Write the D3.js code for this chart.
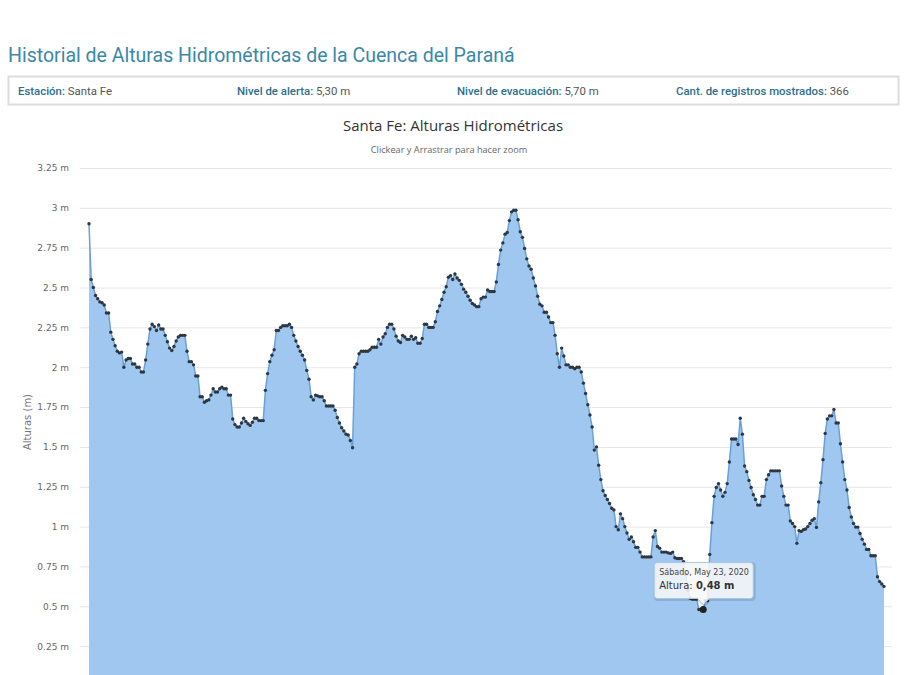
<!DOCTYPE html>
<html>
<head>
<meta charset="utf-8">
<script src="https://cdn.jsdelivr.net/npm/d3@7"></script>
<style>
  body { margin: 0; background: #fff; overflow: hidden; }
</style>
</head>
<body>
<svg id="page"></svg>
<script>
// info bar
const infoLabels = ['Estación:', 'Nivel de alerta:', 'Nivel de evacuación:', 'Cant. de registros mostrados:'];
const infoValues = ['Santa Fe', '5,30 m', '5,70 m', '366'];

const yTicks = [0.25, 0.5, 0.75, 1, 1.25, 1.5, 1.75, 2, 2.25, 2.5, 2.75, 3, 3.25];

// alturas (m), 366 registros diarios
const alturas = [
  2.90, 2.55, 2.50, 2.45, 2.43, 2.41, 2.405, 2.39, 2.34, 2.34,
  2.22, 2.175, 2.135, 2.10, 2.09, 2.095, 2.00, 2.045, 2.055, 2.055,
  2.02, 2.02, 2.00, 2.00, 1.97, 1.97, 2.045, 2.145, 2.24, 2.27,
  2.255, 2.23, 2.265, 2.24, 2.24, 2.20, 2.16, 2.12, 2.105, 2.13,
  2.165, 2.19, 2.20, 2.20, 2.20, 2.10, 2.035, 2.035, 2.015, 1.945,
  1.945, 1.815, 1.815, 1.78, 1.79, 1.795, 1.825, 1.865, 1.845, 1.845,
  1.865, 1.875, 1.865, 1.865, 1.825, 1.825, 1.675, 1.64, 1.625, 1.625,
  1.65, 1.68, 1.66, 1.645, 1.635, 1.655, 1.68, 1.68, 1.665, 1.665,
  1.665, 1.855, 1.96, 2.035, 2.075, 2.11, 2.23, 2.23,
  2.25, 2.26, 2.26, 2.26, 2.27, 2.25, 2.20, 2.165, 2.13, 2.10,
  2.075, 2.045, 1.98, 1.925, 1.815, 1.795, 1.825, 1.82, 1.815, 1.815,
  1.79, 1.757, 1.757, 1.757, 1.757, 1.73, 1.685, 1.65, 1.62, 1.60,
  1.58, 1.575, 1.54, 1.495, 2.00, 2.02, 2.085, 2.10, 2.10, 2.10, 2.10,
  2.11, 2.125, 2.125, 2.125, 2.175, 2.145, 2.19, 2.21, 2.25, 2.27,
  2.27, 2.24, 2.195, 2.165, 2.155, 2.20, 2.19, 2.175, 2.175, 2.195,
  2.175, 2.185, 2.15, 2.15,
  2.18, 2.27, 2.27, 2.25, 2.25, 2.25, 2.285, 2.35, 2.385, 2.425,
  2.47, 2.505, 2.565, 2.575, 2.55, 2.585, 2.56, 2.545, 2.52, 2.49,
  2.47, 2.445, 2.42, 2.40, 2.39, 2.38, 2.38, 2.43, 2.44, 2.44,
  2.485, 2.475, 2.475, 2.475, 2.535, 2.645, 2.735, 2.78, 2.835, 2.845,
  2.92, 2.975, 2.985, 2.985, 2.925, 2.85, 2.815, 2.745, 2.68, 2.635,
  2.615, 2.56, 2.51, 2.445, 2.395, 2.385, 2.345, 2.345, 2.315, 2.28,
  2.28, 2.20, 2.085, 2.00, 2.12, 2.07, 2.015, 2.015, 2.00, 2.00,
  1.99, 2.00, 2.00, 1.97, 1.90,
  1.835, 1.765, 1.70, 1.625, 1.48, 1.50, 1.385, 1.295, 1.225, 1.195,
  1.17, 1.145, 1.115, 1.105, 1.00, 0.98, 1.08, 1.05, 1.00, 0.96,
  0.92, 0.935, 0.905, 0.87, 0.87, 0.84, 0.81, 0.81, 0.81, 0.81,
  0.81, 0.935, 0.975, 0.875, 0.865, 0.84, 0.84, 0.84, 0.835, 0.832,
  0.84, 0.805, 0.80, 0.80, 0.80,
  0.78, 0.70, 0.60, 0.55, 0.545, 0.545, 0.545, 0.48, 0.48, 0.48, 0.535, 0.535,
  0.825, 1.025, 1.19, 1.245, 1.27, 1.23, 1.19, 1.215, 1.27, 1.405,
  1.55, 1.55, 1.55, 1.515, 1.68, 1.58, 1.38, 1.345, 1.29, 1.245,
  1.20, 1.17, 1.135, 1.135, 1.19, 1.19, 1.295, 1.325, 1.35, 1.35,
  1.35, 1.35, 1.35, 1.255, 1.19, 1.135, 1.135, 1.035, 1.02, 1.00,
  0.895, 0.975, 0.97, 0.98, 0.985, 1.00, 1.02, 1.04, 1.05, 0.995,
  1.155, 1.275, 1.42, 1.585, 1.675, 1.695, 1.695, 1.735, 1.65, 1.65,
  1.52, 1.405, 1.295, 1.23, 1.12, 1.06, 1.02, 0.997, 0.997, 0.957,
  0.92, 0.89, 0.857, 0.857, 0.817, 0.817, 0.817, 0.685, 0.655, 0.64,
  0.625
];

// punto señalado por el tooltip
const tooltipIndex = 282;
const tooltipDate = 'Sábado, May 23, 2020';

const svg = d3.select('#page')
  .attr('width', 907)
  .attr('height', 760);

// encabezado
svg.append('text')
  .attr('x', 8)
  .attr('y', 62)
  .style('font-family', 'Roboto')
  .style('font-size', '19.5px')
  .style('fill', '#3a88a8')
  .text('Historial de Alturas Hidrométricas de la Cuenca del Paraná');

svg.append('rect')
  .attr('x', 8.5)
  .attr('y', 76.5)
  .attr('width', 890)
  .attr('height', 28)
  .attr('fill', '#fff')
  .attr('stroke', '#dcdcdc')
  .attr('stroke-width', 2);

const infoX = [18, 237, 457, 676];
infoLabels.forEach((lab, i) => {
  const t = svg.append('text')
    .attr('x', infoX[i])
    .attr('y', 95)
    .style('font-family', 'Roboto')
    .style('font-size', '11.4px');
  t.append('tspan').style('fill', '#2b6f8d').style('font-weight', 500).text(lab);
  t.append('tspan').style('fill', '#555').text(' ' + infoValues[i]);
});

// grafico
const margin = {top: 168, left: 89, right: 884, bottom: 686};

const x = d3.scaleLinear()
  .domain([0, alturas.length - 1])
  .range([margin.left, margin.right]);

const y = d3.scaleLinear()
  .domain([0, 3.25])
  .range([margin.bottom, margin.top]);

svg.append('text')
  .attr('x', 453)
  .attr('y', 131)
  .attr('text-anchor', 'middle')
  .style('font-family', 'Open Sans')
  .style('font-size', '15px')
  .style('fill', '#333')
  .text('Santa Fe: Alturas Hidrométricas');

svg.append('text')
  .attr('x', 449)
  .attr('y', 153)
  .attr('text-anchor', 'middle')
  .style('font-family', 'Open Sans')
  .style('font-size', '9.2px')
  .style('fill', '#666')
  .text('Clickear y Arrastrar para hacer zoom');

// grilla y eje y
const yAxis = svg.append('g')
  .attr('transform', `translate(80, 0)`)
  .call(d3.axisLeft(y)
    .tickValues(yTicks)
    .tickSize(-812)
    .tickPadding(11)
    .tickFormat(d => d + ' m'));

yAxis.select('.domain').remove();
yAxis.selectAll('.tick line')
  .attr('stroke', '#e6e6e6');
yAxis.selectAll('.tick text')
  .style('font-family', 'DejaVu Sans')
  .style('font-size', '9px')
  .style('fill', '#666');

svg.append('text')
  .attr('transform', 'rotate(-90)')
  .attr('x', -422)
  .attr('y', 31)
  .attr('text-anchor', 'middle')
  .style('font-family', 'DejaVu Sans')
  .style('font-size', '10px')
  .style('fill', '#777')
  .text('Alturas (m)');

// area + linea
const area = d3.area()
  .x((d, i) => x(i))
  .y0(y(0))
  .y1(d => y(d));

svg.append('path')
  .datum(alturas)
  .attr('fill', '#9fc7f0')
  .attr('d', area);

const line = d3.line()
  .x((d, i) => x(i))
  .y(d => y(d));

svg.append('path')
  .datum(alturas)
  .attr('fill', 'none')
  .attr('stroke', '#6c9fd4')
  .attr('stroke-width', 1.5)
  .attr('d', line);

svg.selectAll('.punto')
  .data(alturas)
  .enter()
  .append('circle')
  .attr('class', 'punto')
  .attr('cx', (d, i) => x(i))
  .attr('cy', d => y(d))
  .attr('r', 1.7)
  .attr('fill', '#2e3640');

// punto destacado
const px = x(tooltipIndex);
const py = y(alturas[tooltipIndex]);

svg.append('circle')
  .attr('cx', px)
  .attr('cy', py)
  .attr('r', 3.5)
  .attr('fill', '#222');

// tooltip
const tipW = 99, tipH = 36;
const tipX = px - 49, tipY = py - 47;
const tip = svg.append('g');

const tipPath = `M${tipX + 3},${tipY} h${tipW - 6} q3,0 3,3 v${tipH - 6} q0,3 -3,3 H${px + 6} L${px},${tipY + tipH + 6} L${px - 6},${tipY + tipH} H${tipX + 3} q-3,0 -3,-3 v${-(tipH - 6)} q0,-3 3,-3 Z`;

tip.append('path')
  .attr('d', tipPath)
  .attr('transform', 'translate(1,1)')
  .attr('fill', 'none')
  .attr('stroke', 'rgba(0,0,0,0.12)')
  .attr('stroke-width', 3);

tip.append('path')
  .attr('d', tipPath)
  .attr('fill', 'rgba(247,247,247,0.88)')
  .attr('stroke', '#a9c7e6')
  .attr('stroke-width', 1);

tip.append('text')
  .attr('x', tipX + 5)
  .attr('y', tipY + 13)
  .style('font-family', 'DejaVu Sans')
  .style('font-size', '8px')
  .style('fill', '#444')
  .text(tooltipDate);

const t2 = tip.append('text')
  .attr('x', tipX + 5)
  .attr('y', tipY + 27)
  .style('font-family', 'DejaVu Sans')
  .style('font-size', '10px')
  .style('fill', '#333');
t2.append('tspan').text('Altura: ');
t2.append('tspan').style('font-weight', 'bold')
  .text(d3.format('.2f')(alturas[tooltipIndex]).replace('.', ',') + ' m');
</script>
</body>
</html>
